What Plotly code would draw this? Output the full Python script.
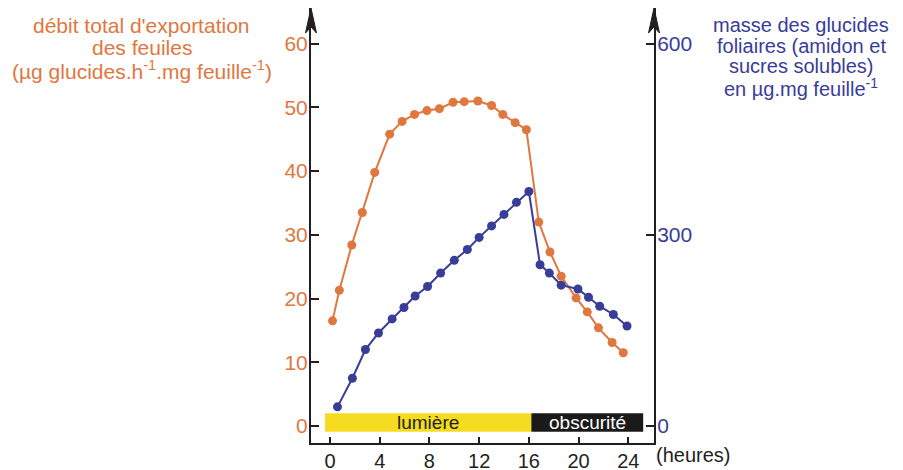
import plotly.graph_objects as go

# Orange series: export rate (left axis)
export_hours = [0.2, 0.75, 1.75, 2.6, 3.6, 4.8, 5.8, 6.8, 7.8, 8.8, 9.9, 10.8, 11.9, 13.0,
                13.9, 14.9, 15.8, 16.8, 17.7, 18.6, 19.8, 20.7, 21.6, 22.7, 23.6]
export_rate = [16.5, 21.3, 28.4, 33.5, 39.8, 45.8, 47.8, 48.9, 49.5, 49.8, 50.8, 50.9, 51.0, 50.3,
               48.9, 47.6, 46.5, 32.0, 27.3, 23.5, 20.1, 17.9, 15.4, 13.1, 11.5]

# Blue series: leaf carbohydrate mass (right axis)
mass_hours = [0.6, 1.8, 2.85, 3.9, 5.0, 5.95, 6.85, 7.85, 8.9, 10.0, 11.05, 12.0, 13.0, 14.0,
              15.0, 16.0, 16.9, 17.65, 18.6, 19.95, 20.8, 21.7, 22.8, 23.9]
mass = [30, 75, 120, 146, 168, 186, 204, 219, 240, 260, 277, 296, 314, 332,
        351, 368, 253, 240, 221, 215, 202, 188, 175, 157]

x_ticks = [0, 4, 8, 12, 16, 20, 24]
left_ticks = [0, 10, 20, 30, 40, 50, 60]
right_ticks = [0, 300, 600]

left_title = ["débit total d'exportation", "des feuiles",
              "(µg glucides.h<sup>-1</sup>.mg feuille<sup>-1</sup>)"]
right_title = ["masse des glucides", "foliaires (amidon et", "sucres solubles)",
               "en µg.mg feuille<sup>-1</sup>"]

light_start, light_end, dark_end = -0.4, 16.2, 25.2

ORANGE = "#E0773F"
BLUE = "#383D98"
DARK = "#231F20"
FONT = "Liberation Sans, Arial, sans-serif"

L, R, T, B, W, H = 311, 249, 8, 27, 903, 470
pw, ph = W - L - R, H - T - B


def px_to_paper(px, py):
    return (px - L) / pw, (H - B - py) / ph


fig = go.Figure()
fig.add_trace(go.Scatter(x=export_hours, y=export_rate, mode="lines+markers",
                         line=dict(color=ORANGE, width=2), marker=dict(color=ORANGE, size=9),
                         showlegend=False, cliponaxis=False, hoverinfo="skip"))
fig.add_trace(go.Scatter(x=mass_hours, y=mass, mode="lines+markers", yaxis="y2",
                         line=dict(color=BLUE, width=2), marker=dict(color=BLUE, size=9),
                         showlegend=False, cliponaxis=False, hoverinfo="skip"))

shapes = [
    dict(type="rect", xref="x", yref="y", x0=light_start, x1=light_end, y0=-0.9, y1=2.0,
         fillcolor="#F6DC20", line=dict(width=0), layer="below"),
    dict(type="rect", xref="x", yref="y", x0=light_end, x1=dark_end, y0=-0.9, y1=2.0,
         fillcolor="#1A1A1A", line=dict(width=0), layer="below"),
]
for xp in (0, 1):
    shapes.append(dict(type="path", xref="paper", yref="paper", xsizemode="pixel", ysizemode="pixel",
                       xanchor=xp, yanchor=1,
                       path="M 0,0 L -5.5,-25 L 0,-19 L 5.5,-25 Z",
                       fillcolor=DARK, line=dict(color=DARK, width=1)))

annotations = [
    dict(x=(light_start + light_end) / 2, y=0.55, xref="x", yref="y", text="lumière",
         showarrow=False, font=dict(size=19, color=DARK, family=FONT)),
    dict(x=(light_end + dark_end) / 2, y=0.55, xref="x", yref="y", text="obscurité",
         showarrow=False, font=dict(size=19, color="white", family=FONT)),
]
free = [(693, 455, "(heures)", DARK, 20)]
for i, line in enumerate(left_title):
    free.append((141.5, 26 + 21.5 * i + (1 if i == 2 else 0), line, ORANGE, 21))
for i, line in enumerate(right_title):
    free.append((801, 25 + 20.7 * i, line, BLUE, 20))
for px, py, txt, col, sz in free:
    xx, yy = px_to_paper(px, py)
    annotations.append(dict(x=xx, y=yy, xref="paper", yref="paper", text=txt, showarrow=False,
                            xanchor="center", yanchor="middle",
                            font=dict(size=sz, color=col, family=FONT)))

fig.update_layout(
    width=W, height=H, margin=dict(l=L, r=R, t=T, b=B, autoexpand=False),
    plot_bgcolor="white", paper_bgcolor="white",
    font=dict(family=FONT, size=21, color=DARK),
    shapes=shapes, annotations=annotations, showlegend=False, hovermode=False,
    xaxis=dict(range=[-1.53, 26.07], tickvals=x_ticks, ticks="inside", ticklen=6, tickwidth=2,
               tickcolor=DARK, showline=True, linecolor=DARK, linewidth=2, showgrid=False,
               zeroline=False, tickfont=dict(size=20, color=DARK), ticklabelstandoff=-1,
               automargin=False),
    yaxis=dict(range=[-2.67, 65.6], tickvals=left_ticks, ticks="inside", ticklen=8, tickwidth=2,
               tickcolor=DARK, showline=True, linecolor=DARK, linewidth=2, showgrid=False,
               zeroline=False, tickfont=dict(size=21, color=ORANGE), ticklabelstandoff=-3,
               automargin=False),
    yaxis2=dict(range=[-26.7, 656], tickvals=right_ticks, ticks="inside", ticklen=8, tickwidth=2,
                tickcolor=DARK, showline=True, linecolor=DARK, linewidth=2, showgrid=False,
                zeroline=False, overlaying="y", side="right",
                tickfont=dict(size=21, color=BLUE), ticklabelstandoff=-3, automargin=False),
)

fig.write_html("out.html", config={"displayModeBar": False, "staticPlot": True},
               post_script="document.body.style.margin='0';document.body.style.padding='0';")
